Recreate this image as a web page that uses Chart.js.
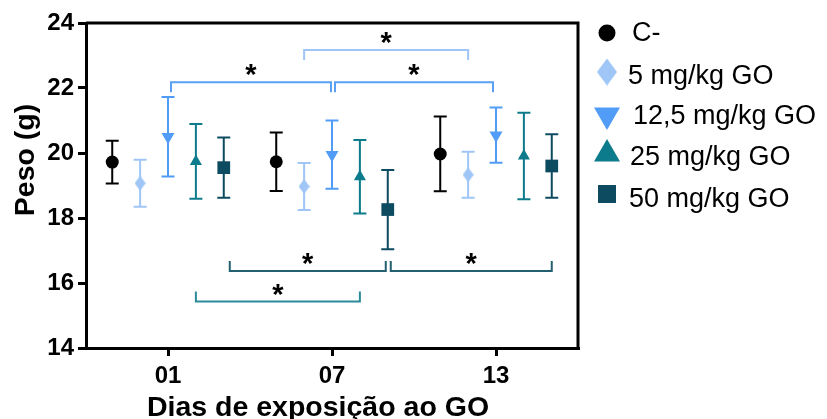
<!DOCTYPE html>
<html>
<head>
<meta charset="utf-8">
<script src="https://cdn.jsdelivr.net/npm/chart.js@4.4.1/dist/chart.umd.min.js"></script>
<style>
  html, body { margin: 0; padding: 0; background: #fff; }
  #wrap { width: 827px; height: 419px; }
</style>
</head>
<body>
<div id="wrap"><canvas id="pesoChart"></canvas></div>
<script>
// days of exposure (x categories)
const dayLabels = ['01', '07', '13'];

// groups
const groupNames = ['C-', '5 mg/kg GO', '12,5 mg/kg GO', '25 mg/kg GO', '50 mg/kg GO'];

// mean body weight (g) per group, per day
const meanCtrl = [19.72, 19.73, 19.97];
const mean5 = [19.07, 18.97, 19.33];
const mean125 = [20.50, 19.95, 20.55];
const mean25 = [19.74, 19.27, 19.91];
const mean50 = [19.55, 18.26, 19.60];

// error (+/-) per group, per day
const errCtrl = [0.66, 0.90, 1.15];
const err5 = [0.72, 0.72, 0.71];
const err125 = [1.22, 1.05, 0.85];
const err25 = [1.15, 1.13, 1.33];
const err50 = [0.93, 1.22, 0.98];

// y axis ticks
const yTicks = [14, 16, 18, 20, 22, 24];

// significance brackets: group index, from day, to day, level (g), leg (g, + = legs up)
const sigGroup = [2, 2, 1, 4, 3, 4];
const sigFrom = [0, 1, 1, 0, 0, 1];
const sigTo = [1, 2, 2, 1, 1, 2];
const sigLevel = [22.18, 22.18, 23.17, 16.37, 15.43, 16.37];
const sigLeg = [-0.31, -0.31, -0.31, 0.31, 0.31, 0.31];

// ---- styles ----
const colors = ['#000000', '#9fc6f6', '#519cf6', '#0c7b8b', '#0d4c60'];
const bracketColors = ['#000000', '#9fc6f6', '#5aa0f4', '#2a8a9a', '#23606f'];
const groupOffset = [-0.34, -0.17, 0, 0.17, 0.34];
// pixel nudges for bracket ends (left, right)
const sigInsetL = [3, 3, 0, 6, 0, 3];
const sigInsetR = [-1, -3, 0, -2, 0, 0];

const FONT = "'Liberation Sans', Arial, Helvetica, sans-serif";

function diamondImage(w, h, color) {
  const c = document.createElement('canvas');
  c.width = w; c.height = h;
  const g = c.getContext('2d');
  g.fillStyle = color;
  g.beginPath();
  g.moveTo(w / 2, 0);
  g.lineTo(w, h / 2);
  g.lineTo(w / 2, h);
  g.lineTo(0, h / 2);
  g.closePath();
  g.fill();
  return c;
}

const means = [meanCtrl, mean5, mean125, mean25, mean50];
const errs = [errCtrl, err5, err125, err25, err50];
const pointStyles = ['circle', diamondImage(11, 15, colors[1]), 'triangle', 'triangle', 'rect'];
const pointRadius = [6.5, 7, 7.5, 7, 9];
const pointRotation = [0, 0, 180, 0, 0];

const datasets = groupNames.map((name, k) => ({
  label: name,
  data: means[k].map((m, i) => ({ x: i + groupOffset[k], y: m })),
  errs: errs[k],
  showLine: false,
  pointStyle: pointStyles[k],
  pointRadius: pointRadius[k],
  pointRotation: pointRotation[k],
  backgroundColor: colors[k],
  borderColor: colors[k],
  pointBorderWidth: 0,
}));

const decoPlugin = {
  id: 'deco',
  beforeDatasetsDraw(chart) {
    const ctx = chart.ctx;
    const xs = chart.scales.x, ys = chart.scales.y;
    ctx.save();
    ctx.lineWidth = 2;
    chart.data.datasets.forEach((ds, k) => {
      ctx.strokeStyle = colors[k];
      ds.data.forEach((p, i) => {
        const x = xs.getPixelForValue(p.x);
        const yTop = ys.getPixelForValue(p.y + ds.errs[i]);
        const yBot = ys.getPixelForValue(p.y - ds.errs[i]);
        ctx.beginPath();
        ctx.moveTo(x, yTop); ctx.lineTo(x, yBot);
        ctx.moveTo(x - 6.5, yTop); ctx.lineTo(x + 6.5, yTop);
        ctx.moveTo(x - 6.5, yBot); ctx.lineTo(x + 6.5, yBot);
        ctx.stroke();
      });
    });
    ctx.restore();
  },
  afterDraw(chart) {
    const ctx = chart.ctx;
    const a = chart.chartArea;
    const xs = chart.scales.x, ys = chart.scales.y;
    ctx.save();

    // top and right frame
    ctx.strokeStyle = '#000';
    ctx.lineWidth = 3;
    ctx.beginPath();
    ctx.moveTo(a.left, a.top);
    ctx.lineTo(a.right, a.top);
    ctx.lineTo(a.right, a.bottom);
    ctx.stroke();

    // significance brackets
    ctx.lineWidth = 2;
    sigGroup.forEach((g, j) => {
      const x1 = xs.getPixelForValue(sigFrom[j] + groupOffset[g]) + sigInsetL[j];
      const x2 = xs.getPixelForValue(sigTo[j] + groupOffset[g]) + sigInsetR[j];
      const y = ys.getPixelForValue(sigLevel[j]);
      const yl = ys.getPixelForValue(sigLevel[j] + sigLeg[j]);
      ctx.strokeStyle = bracketColors[g];
      ctx.beginPath();
      ctx.moveTo(x1, yl); ctx.lineTo(x1, y); ctx.lineTo(x2, y); ctx.lineTo(x2, yl);
      ctx.stroke();
      ctx.fillStyle = '#000';
      ctx.font = 'bold 29px ' + FONT;
      ctx.textAlign = 'center';
      ctx.textBaseline = 'alphabetic';
      ctx.fillText('*', (x1 + x2) / 2, y + 2);
    });

    // axis titles
    ctx.fillStyle = '#000';
    ctx.font = 'bold 28.5px ' + FONT;
    ctx.textAlign = 'center';
    ctx.textBaseline = 'middle';
    ctx.fillText('Dias de exposição ao GO', 318, 408);
    ctx.save();
    ctx.translate(26, 160);
    ctx.rotate(-Math.PI / 2);
    ctx.fillText('Peso (g)', 0, 0);
    ctx.restore();

    // legend
    const markY = [33, 72, 115, 154, 194];
    const textY = [34, 77, 117, 158, 200];
    const textX = [632, 628, 633, 630, 629];
    const legStyles = ['circle', diamondImage(20, 27, colors[1]), 'triangle', 'triangle', 'rect'];
    const legRadius = [8.5, 0, 15, 15, 12.7];
    groupNames.forEach((name, k) => {
      ctx.fillStyle = colors[k];
      ctx.strokeStyle = colors[k];
      Chart.helpers.drawPoint(ctx, {
        pointStyle: legStyles[k],
        radius: legRadius[k],
        rotation: pointRotation[k],
        borderWidth: 0,
      }, 607, markY[k]);
      ctx.fillStyle = '#000';
      ctx.font = '27px ' + FONT;
      ctx.textAlign = 'left';
      ctx.textBaseline = 'middle';
      ctx.fillText(name, textX[k], textY[k]);
    });
    ctx.restore();
  }
};

new Chart(document.getElementById('pesoChart'), {
  type: 'scatter',
  data: { datasets: datasets },
  options: {
    responsive: true,
    maintainAspectRatio: false,
    devicePixelRatio: 1,
    animation: false,
    layout: { padding: { top: 23, right: 249, bottom: 0, left: 0 } },
    plugins: {
      legend: { display: false },
      tooltip: { enabled: false },
    },
    scales: {
      x: {
        type: 'linear',
        min: -0.5,
        max: 2.5,
        afterBuildTicks: (s) => { s.ticks = dayLabels.map((d, i) => ({ value: i })); },
        afterFit: (s) => { s.height = 71; },
        ticks: {
          callback: (v, i) => dayLabels[i],
          color: '#000',
          font: { family: FONT, size: 24, weight: 'bold' },
          padding: 6,
          maxRotation: 0,
        },
        grid: { drawOnChartArea: false, drawTicks: true, tickLength: 8, lineWidth: 3, color: '#000' },
        border: { display: true, width: 3, color: '#000' },
      },
      y: {
        min: 14,
        max: 24,
        afterBuildTicks: (s) => { s.ticks = yTicks.map(v => ({ value: v })); },
        afterFit: (s) => { s.width = 86; },
        ticks: {
          color: '#000',
          font: { family: FONT, size: 24, weight: 'bold' },
          padding: 4,
        },
        grid: { drawOnChartArea: false, drawTicks: true, tickLength: 8, lineWidth: 3, color: '#000' },
        border: { display: true, width: 3, color: '#000' },
      },
    },
  },
  plugins: [decoPlugin],
});
</script>
</body>
</html>
